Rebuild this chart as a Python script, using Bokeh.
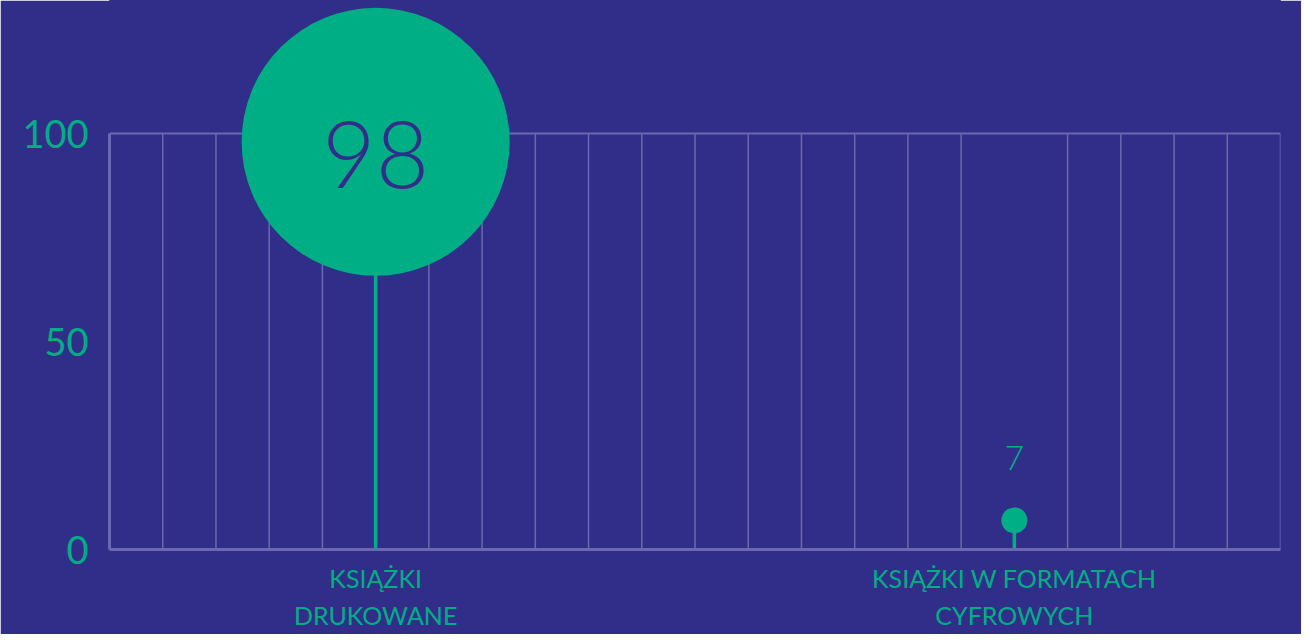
from bokeh.plotting import figure
from bokeh.models import Range1d, FixedTicker, ColumnDataSource
from bokeh.core.properties import value
from bokeh.embed import file_html
from bokeh.resources import INLINE

# data
categories = ["KSIĄŻKI\nDRUKOWANE", "KSIĄŻKI W FORMATACH\nCYFROWYCH"]
cat_pos = [5, 17]
values = [98, 7]
labels = ["98", "7"]
y_ticks = [0, 50, 100]
grid_x = list(range(0, 23))

BG = "#312E8A"
GREEN = "#00AE86"
GRID = "#6B68B0"

p = figure(width=1301, height=634, output_backend="svg", toolbar_location=None,
           x_range=Range1d(0, 22), y_range=Range1d(0, 549 / 4.16),
           min_border_left=109, min_border_right=21, min_border_top=0, min_border_bottom=85)
p.background_fill_color = BG
p.border_fill_color = BG
p.outline_line_color = BG
p.outline_line_width = 1
p.xgrid.visible = False
p.ygrid.visible = False

# stems (drawn first)
p.segment(x0=cat_pos, y0=[0, 0], x1=cat_pos, y1=values, line_color=GREEN, line_width=3.5)

# grid lines (vertical) from 0 to 100, skipping stem positions
gx = [g for g in grid_x[1:] if g not in cat_pos]
p.segment(x0=gx, y0=[0] * len(gx), x1=gx, y1=[100] * len(gx), line_color=GRID, line_width=1.5)
# top border at 100
p.segment(x0=[grid_x[0]], y0=[100], x1=[grid_x[-1]], y1=[100], line_color=GRID, line_width=2)

# axes
p.yaxis.ticker = FixedTicker(ticks=y_ticks)
p.yaxis.bounds = (0, 100)
p.yaxis.axis_line_color = GRID
p.yaxis.axis_line_width = 3
p.yaxis.major_tick_line_color = None
p.yaxis.minor_tick_line_color = None
p.yaxis.major_label_text_color = GREEN
p.yaxis.major_label_text_font = "Lato"
p.yaxis.major_label_text_font_size = "38px"
p.yaxis.major_label_standoff = 15

p.xaxis.ticker = FixedTicker(ticks=cat_pos)
p.xaxis.major_label_overrides = {pos: c for pos, c in zip(cat_pos, categories)}
p.xaxis.axis_line_color = GRID
p.xaxis.axis_line_width = 3
p.xaxis.major_tick_line_color = None
p.xaxis.minor_tick_line_color = None
p.xaxis.major_label_text_color = GREEN
p.xaxis.major_label_text_font = "Lato"
p.xaxis.major_label_text_font_size = "25px"
p.xaxis.major_label_text_line_height = 1.25
p.xaxis.major_label_standoff = 7

# circles
src = ColumnDataSource(dict(x=cat_pos, y=values, size=[268, 26], label=labels))
p.scatter(x="x", y="y", size="size", source=src, fill_color=GREEN, line_color=None)

# labels
p.text(x=[cat_pos[0]], y=[values[0]], text=[labels[0]], text_align="center", text_baseline="middle",
       y_offset=13, text_color=BG, text_font=value("Lato Light"), text_font_size="92px")
p.text(x=[cat_pos[1]], y=[values[1]], text=[labels[1]], text_align="center", text_baseline="middle",
       y_offset=-62, text_color=GREEN, text_font=value("Lato Light"), text_font_size="34px")

open("out.html", "w").write(file_html(p, INLINE))
